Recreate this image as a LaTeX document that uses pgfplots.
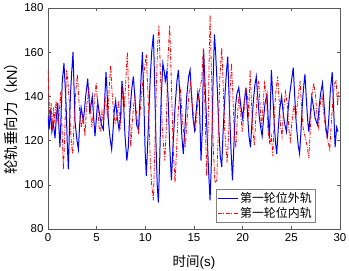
\documentclass[border=0pt]{standalone}
\usepackage{pgfplots}
\usepackage{pgfplotstable}
\pgfplotsset{compat=1.18}
\usepackage{fontspec}
\setmainfont{Liberation Sans}
\newfontfamily\cjk{Noto Sans CJK SC}

\pgfplotstableread{
x y
0.00 131
0.12 125
0.25 134
0.40 124
0.55 128
0.72 121
0.85 130
1.00 137
1.12 126
1.23 117
1.35 132
1.47 147
1.64 155
1.75 146
1.85 137
1.97 120
2.09 107
2.20 125
2.30 140
2.42 150
2.57 160
2.67 145
2.77 129
2.95 121
3.12 116
3.25 127
3.40 135
3.52 132
3.63 129
3.75 134
3.87 140
4.08 148
4.20 140
4.30 132
4.42 136
4.55 140
4.70 130
4.83 122
4.97 130
5.10 138
5.22 134
5.34 131
5.50 127
5.68 125
5.82 138
5.96 151
6.08 141
6.20 129
6.38 121
6.54 116
6.70 126
6.82 134
6.95 138
7.10 131
7.30 125
7.45 130
7.60 147
7.74 140
7.90 123
8.10 111
8.25 117
8.40 132
8.60 143
8.77 149
8.95 138
9.10 127
9.30 125
9.50 143
9.70 160
9.85 138
9.98 115
10.10 104
10.30 125
10.50 148
10.65 160
10.83 168
10.95 148
11.10 118
11.22 100
11.34 92
11.48 112
11.62 138
11.80 155
11.95 151
12.05 147
12.20 151
12.35 138
12.50 118
12.68 102
12.85 118
13.05 135
13.25 147
13.40 152
13.55 140
13.75 122
13.90 114
14.05 124
14.25 140
14.45 149
14.60 152
14.75 140
14.90 130
15.05 125
15.20 132
15.40 142
15.55 138
15.72 111
15.85 125
15.99 161
16.12 147
16.30 128
16.48 108
16.65 93
16.80 112
16.95 145
17.10 168
17.22 160
17.40 143
17.55 125
17.70 113
17.85 108
18.00 125
18.20 142
18.35 152
18.47 158
18.60 140
18.78 118
18.95 102
19.10 118
19.25 135
19.40 141
19.60 144
19.80 136
20.00 130
20.15 137
20.35 144
20.50 132
20.65 122
20.80 117
20.95 128
21.10 138
21.25 145
21.40 149
21.55 140
21.70 131
21.85 126
22.00 122
22.15 130
22.30 137
22.50 141
22.62 130
22.75 121
22.95 152
23.10 140
23.25 127
23.40 118
23.50 114
23.65 125
23.80 134
24.00 140
24.15 133
24.30 128
24.50 124
24.65 133
24.80 140
24.95 145
25.20 153
25.35 140
25.50 128
25.70 118
25.85 114
26.00 125
26.15 138
26.30 146
26.40 150
26.55 138
26.70 128
26.80 124
26.95 132
27.10 140
27.25 136
27.45 130
27.70 127
27.85 135
28.00 141
28.20 146
28.35 137
28.50 128
28.70 121
28.85 130
29.00 142
29.20 151
29.35 134
29.50 117
29.65 126
29.80 124
}\outer

\pgfplotstableread{
x y
0.00 152
0.10 140
0.20 130
0.32 137
0.45 125
0.58 135
0.70 128
0.82 138
0.95 132
1.05 127
1.18 134
1.30 142
1.42 128
1.58 107
1.70 120
1.82 140
1.92 152
2.05 146
2.18 138
2.30 126
2.42 118
2.54 114
2.68 128
2.85 142
3.02 150
3.15 140
3.30 130
3.45 126
3.60 132
3.80 122
3.95 135
4.10 140
4.20 144
4.35 135
4.50 126
4.65 132
4.80 140
4.95 146
5.10 136
5.25 126
5.40 124
5.55 133
5.70 128
5.85 140
6.00 135
6.15 130
6.30 145
6.44 154
6.58 142
6.75 132
6.90 128
7.05 130
7.25 138
7.40 125
7.55 134
7.70 144
7.85 135
8.00 148
8.15 160
8.30 140
8.50 117
8.65 128
8.80 136
8.94 140
9.10 132
9.30 123
9.50 135
9.70 145
9.90 152
10.10 159
10.30 138
10.50 112
10.65 100
10.83 93
11.00 120
11.15 148
11.28 165
11.40 172
11.55 150
11.75 125
12.00 111
12.15 125
12.30 155
12.50 172
12.65 150
12.85 118
13.05 101
13.20 115
13.40 135
13.60 144
13.80 130
14.10 117
14.30 130
14.50 142
14.65 146
14.85 136
15.00 128
15.15 125
15.35 135
15.50 140
15.62 144
15.80 148
15.96 162
16.10 140
16.30 104
16.45 125
16.55 155
16.65 177
16.80 150
16.95 120
17.15 101
17.34 102
17.50 125
17.65 148
17.85 162
18.00 145
18.15 125
18.40 110
18.55 122
18.70 142
18.85 155
19.00 140
19.15 122
19.30 117
19.45 130
19.60 140
19.80 132
19.95 124
20.10 130
20.30 144
20.50 140
20.62 130
20.76 152
20.90 138
21.05 124
21.20 118
21.35 130
21.50 142
21.65 147
21.80 135
21.95 126
22.10 136
22.25 146
22.45 140
22.60 125
22.80 118
22.95 122
23.10 113
23.30 135
23.45 144
23.60 149
23.75 138
23.90 126
24.05 122
24.20 134
24.40 142
24.60 136
24.75 125
24.90 120
25.05 128
25.25 136
25.45 130
25.65 138
25.90 147
26.05 135
26.20 126
26.40 122
26.60 118
26.80 112
26.95 125
27.10 140
27.30 146
27.50 140
27.65 130
27.80 126
27.95 136
28.15 140
28.35 132
28.55 124
28.75 120
28.95 116
29.10 128
29.30 140
29.45 146
29.60 147
29.75 136
29.85 142
}\inner

\begin{document}
\begin{tikzpicture}
\begin{axis}[
  name=ax, at={(0,0)}, anchor=south west,
  width=292bp, height=221bp, scale only axis,
  xmin=0, xmax=30, ymin=80, ymax=180,
  xtick={0,5,...,30}, ytick={80,100,...,180},
  tick align=inside, major tick length=3bp,
  axis line style={black!65, line width=0.5pt},
  every tick/.style={black!65, line width=0.5pt},
  tick label style={font=\fontsize{11.5}{13}\selectfont},
  /pgf/number format/assume math mode=true,
  xticklabel style={yshift=-1bp},
  yticklabel style={xshift=-1bp},
  xlabel={{\cjk 时间}(s)},
  ylabel={{\cjk 轮轨垂向力（}kN{\cjk ）}},
  xlabel style={font=\fontsize{13.5}{15}\selectfont, at={(axis description cs:0.5,-0.15)}, anchor=center},
  ylabel style={font=\fontsize{14.5}{16}\selectfont, at={(axis description cs:-0.125,0.515)}, anchor=center},
  legend style={at={(axis description cs:1,0)}, anchor=south east,
    xshift=-25bp, yshift=7bp, draw=black!50, fill=white,
    font=\fontsize{12}{13}\selectfont,
    inner xsep=1bp, inner ysep=1bp, row sep=-1bp},
  legend image code/.code={\draw[#1] (0bp,0bp) -- (20bp,0bp);},
  legend cell align=left,
]
\addplot[blue, line width=1pt] table {\outer};
\addlegendentry{\cjk 第一轮位外轨}
\addplot[red, line width=0.8pt, dash pattern=on 4pt off 1.5pt on 1pt off 1.5pt] table {\inner};
\addlegendentry{\cjk 第一轮位内轨}
\end{axis}
\pgfresetboundingbox
\path[use as bounding box] ([shift={(-48bp,-42bp)}]ax.south west) rectangle ([shift={(9bp,8bp)}]ax.north east);
\end{tikzpicture}
\end{document}
